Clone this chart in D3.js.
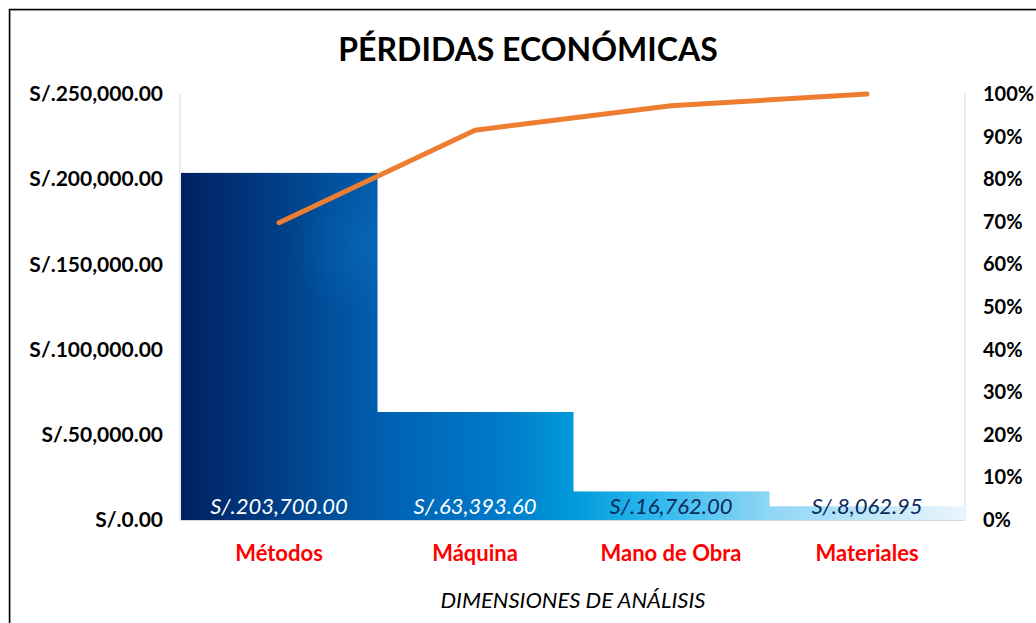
<!DOCTYPE html>
<html>
<head>
<meta charset="utf-8">
<script src="https://cdn.jsdelivr.net/npm/d3@7"></script>
<style>
  html, body { margin: 0; padding: 0; background: #fff; }
  svg { display: block; font-family: Lato, "Open Sans", sans-serif; }
</style>
</head>
<body>
<svg id="chart"></svg>
<script>
// chart data
const categories = ["Métodos", "Máquina", "Mano de Obra", "Materiales"];
const losses = [203700.00, 63393.60, 16762.00, 8062.95];
const lossLabels = ["S/.203,700.00", "S/.63,393.60", "S/.16,762.00", "S/.8,062.95"];
const cumulativePct = [0.6978, 0.9150, 0.9724, 1.0];
const leftTicks = [0, 50000, 100000, 150000, 200000, 250000];
const rightTicks = [0, 0.1, 0.2, 0.3, 0.4, 0.5, 0.6, 0.7, 0.8, 0.9, 1.0];

const width = 1036;
const height = 623;
const margin = { top: 94, right: 71, bottom: 103, left: 181 };

const svg = d3.select("#chart").attr("width", width).attr("height", height);

// outer frame (only top/left edges visible in the crop)
svg.append("path")
  .attr("d", `M10.5,${height} V10.5 H${width}`)
  .attr("fill", "none").attr("stroke", "#c8c8c8").attr("stroke-width", 1);
svg.append("path")
  .attr("d", `M9.5,${height} V9.5 H${width}`)
  .attr("fill", "none").attr("stroke", "#000").attr("stroke-width", 1.5);

const x = d3.scaleBand()
  .domain(categories)
  .range([margin.left, width - margin.right])
  .padding(0);

const y = d3.scaleLinear()
  .domain([0, 250000])
  .range([height - margin.bottom, margin.top]);

const yPct = d3.scaleLinear()
  .domain([0, 1])
  .range([height - margin.bottom, margin.top]);

// gradient running across the whole plot
const defs = svg.append("defs");
const grad = defs.append("linearGradient")
  .attr("id", "barGrad")
  .attr("gradientUnits", "userSpaceOnUse")
  .attr("x1", margin.left).attr("x2", width - margin.right)
  .attr("y1", 0).attr("y2", 0);
[
  [0, "#002060"],
  [0.27, "#0063b4"],
  [0.40, "#0078c8"],
  [0.50, "#009ada"],
  [0.60, "#2bb7ee"],
  [0.75, "#8fd6f5"],
  [1, "#eaf5fc"]
].forEach(([o, c]) => grad.append("stop").attr("offset", o).attr("stop-color", c));

const glow = defs.append("radialGradient")
  .attr("id", "glow")
  .attr("gradientUnits", "userSpaceOnUse")
  .attr("cx", 360).attr("cy", 245).attr("r", 70);
glow.append("stop").attr("offset", 0).attr("stop-color", "#1a78c8").attr("stop-opacity", 0.3);
glow.append("stop").attr("offset", 1).attr("stop-color", "#1a78c8").attr("stop-opacity", 0);

// axis lines
const axisColor = "#d9d9d9";
svg.append("line")
  .attr("x1", margin.left - 1).attr("x2", margin.left - 1)
  .attr("y1", margin.top).attr("y2", y(0))
  .attr("stroke", axisColor);
svg.append("line")
  .attr("x1", width - margin.right).attr("x2", width - margin.right)
  .attr("y1", margin.top).attr("y2", y(0))
  .attr("stroke", axisColor);

// bars
svg.append("g")
  .selectAll("rect")
  .data(losses)
  .join("rect")
  .attr("x", (d, i) => x(categories[i]))
  .attr("y", d => y(d))
  .attr("width", x.bandwidth() + 0.5)
  .attr("height", d => y(0) - y(d))
  .attr("fill", "url(#barGrad)");

svg.append("rect")
  .attr("x", x(categories[0]))
  .attr("y", y(losses[0]))
  .attr("width", x.bandwidth())
  .attr("height", y(0) - y(losses[0]))
  .attr("fill", "url(#glow)");

// baseline
svg.append("line")
  .attr("x1", margin.left - 1).attr("x2", width - margin.right)
  .attr("y1", y(0) + 0.5).attr("y2", y(0) + 0.5)
  .attr("stroke", axisColor);

// value labels
svg.append("g")
  .selectAll("text")
  .data(lossLabels)
  .join("text")
  .attr("x", (d, i) => x(categories[i]) + x.bandwidth() / 2)
  .attr("y", y(0) - 6)
  .attr("text-anchor", "middle")
  .attr("font-size", 22)
  .attr("font-style", "italic")
  .attr("fill", (d, i) => i < 2 ? "#ffffff" : "#0b2a5c")
  .text(d => d);

// pareto line
const line = d3.line()
  .x((d, i) => x(categories[i]) + x.bandwidth() / 2)
  .y(d => yPct(d));

svg.append("path")
  .datum(cumulativePct)
  .attr("d", line)
  .attr("fill", "none")
  .attr("stroke", "#ed7d31")
  .attr("stroke-width", 5)
  .attr("stroke-linecap", "round")
  .attr("stroke-linejoin", "round");

// left axis
const moneyFmt = d3.format(",.2f");
svg.append("g")
  .attr("transform", `translate(${margin.left - 18},0)`)
  .call(d3.axisLeft(y).tickValues(leftTicks).tickSize(0).tickPadding(0)
    .tickFormat(d => "S/." + moneyFmt(d)))
  .call(g => g.select(".domain").remove())
  .call(g => g.selectAll("text")
    .attr("font-family", "Lato, sans-serif")
    .attr("font-size", 21)
    .attr("font-weight", "bold")
    .attr("fill", "#000"));

// right axis
svg.append("g")
  .attr("transform", `translate(${width - margin.right + 18},0)`)
  .call(d3.axisRight(yPct).tickValues(rightTicks).tickSize(0).tickPadding(0)
    .tickFormat(d3.format(".0%")))
  .call(g => g.select(".domain").remove())
  .call(g => g.selectAll("text")
    .attr("font-family", "Lato, sans-serif")
    .attr("font-size", 20)
    .attr("font-weight", "bold")
    .attr("fill", "#000"));

// category axis
svg.append("g")
  .attr("transform", `translate(0,${y(0)})`)
  .call(d3.axisBottom(x).tickSize(0).tickPadding(25))
  .call(g => g.select(".domain").remove())
  .call(g => g.selectAll("text")
    .attr("font-family", "Lato, sans-serif")
    .attr("font-size", 22)
    .attr("font-weight", "bold")
    .attr("fill", "#ff0000"));

// title
svg.append("text")
  .attr("x", 528)
  .attr("y", 61)
  .attr("text-anchor", "middle")
  .attr("font-size", 32)
  .attr("font-weight", "bold")
  .attr("fill", "#000")
  .text("PÉRDIDAS ECONÓMICAS");

// axis title
svg.append("text")
  .attr("x", (margin.left + width - margin.right) / 2)
  .attr("y", 608)
  .attr("text-anchor", "middle")
  .attr("font-size", 22)
  .attr("font-style", "italic")
  .attr("fill", "#000")
  .text("DIMENSIONES DE ANÁLISIS");
</script>
</body>
</html>
